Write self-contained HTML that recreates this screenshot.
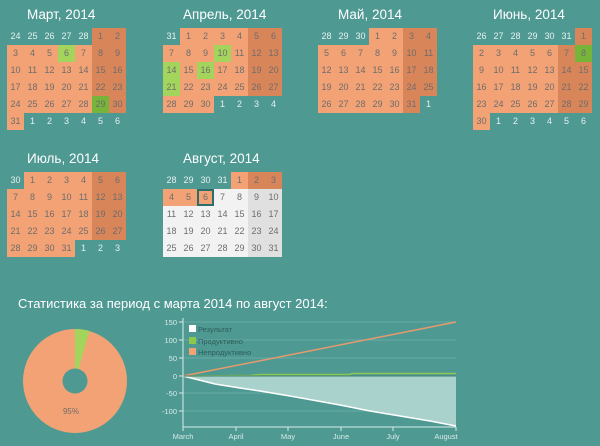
<!DOCTYPE html>
<html><head><meta charset="utf-8"><style>
body{margin:0;width:600px;height:446px;background:#4f9993;font-family:"Liberation Sans",sans-serif;position:relative;overflow:hidden}
.t{position:absolute;color:#fff;font-size:13.5px}
.c{position:absolute;width:17px;height:17px;line-height:17px;text-align:center;font-size:9px;color:#6d6d6d}
.o{color:#e6f0ee}
</style></head><body>
<div id="root"></div>
<svg style="position:absolute;left:0;top:0" width="600" height="446">
<g stroke="#6aaca6" stroke-width="1">
<line x1="183" y1="322" x2="456" y2="322"/><line x1="183" y1="340" x2="456" y2="340"/><line x1="183" y1="358" x2="456" y2="358"/><line x1="183" y1="393" x2="456" y2="393"/><line x1="183" y1="411" x2="456" y2="411"/>
</g>
<polygon points="183,376 215,384 240,388 260,391 290,396 340,405 370,411 400,416 430,421 456,426 456,376" fill="#a9d2cd"/>
<polyline points="183,376 215,384 240,388 260,391 290,396 340,405 370,411 400,416 430,421 456,426" fill="none" stroke="#fff" stroke-width="1.5"/>
<polyline points="183,376 250,375.5 260,374.5 350,374.5 352,373.5 456,373.5" fill="none" stroke="#8cc84e" stroke-width="1.5"/>
<line x1="183" y1="376" x2="456" y2="322" stroke="#e79a6c" stroke-width="1.5"/>
<line x1="183" y1="376" x2="456" y2="376" stroke="#3f7f79" stroke-width="1"/>
<line x1="183" y1="318" x2="183" y2="427" stroke="#d8eae8"/>
<line x1="183" y1="427" x2="456" y2="427" stroke="#d8eae8"/>
<g stroke="#d8eae8"><line x1="179" y1="322" x2="183" y2="322"/><line x1="179" y1="340" x2="183" y2="340"/><line x1="179" y1="358" x2="183" y2="358"/><line x1="179" y1="376" x2="183" y2="376"/><line x1="179" y1="393" x2="183" y2="393"/><line x1="179" y1="411" x2="183" y2="411"/>
<line x1="183" y1="427" x2="183" y2="431"/><line x1="236" y1="427" x2="236" y2="431"/><line x1="288" y1="427" x2="288" y2="431"/><line x1="341" y1="427" x2="341" y2="431"/><line x1="393" y1="427" x2="393" y2="431"/><line x1="456" y1="427" x2="456" y2="431"/></g>
<g font-size="7.5" fill="#d8eae8" text-anchor="end" font-family="Liberation Sans,sans-serif">
<text x="177" y="325">150</text><text x="177" y="343">100</text><text x="177" y="361">50</text><text x="177" y="379">0</text><text x="177" y="396">-50</text><text x="177" y="414">-100</text></g>
<g font-size="7.5" fill="#d8eae8" text-anchor="middle" font-family="Liberation Sans,sans-serif">
<text x="183" y="439">March</text><text x="236" y="439">April</text><text x="288" y="439">May</text><text x="341" y="439">June</text><text x="393" y="439">July</text><text x="446" y="439">August</text></g>
<rect x="189" y="325" width="7" height="7" fill="#fff"/><rect x="189" y="337" width="7" height="7" fill="#8cc84e"/><rect x="189" y="348" width="7" height="7" fill="#f2a274"/>
<g font-size="7.5" fill="#2e5f5a" font-family="Liberation Sans,sans-serif"><text x="198" y="332">Результат</text><text x="198" y="344">Продуктивно</text><text x="198" y="355">Непродуктивно</text></g>
<circle cx="75" cy="381" r="52" fill="#f2a274"/>
<path d="M75,381 L75,329 A52,52 0 0 1 89.5,331 Z" fill="#a3d55c"/>
<circle cx="75" cy="381" r="12.5" fill="#4f9993"/>
<text x="71" y="414" font-size="8" fill="#6d6d6d" text-anchor="middle" font-family="Liberation Sans,sans-serif">95%</text>
</svg>
<div class="t" style="left:18px;top:296px;font-size:13px">Статистика за период с марта 2014 по август 2014:</div>
<script>
var months=[
 {n:"Март, 2014",x:7,y:28,off:5,d:31,p:28,sp:{6:"#a3d55c",29:"#76b53a"}},
 {n:"Апрель, 2014",x:163,y:28,off:1,d:30,p:31,sp:{10:"#a3d55c",14:"#a3d55c",16:"#a3d55c",21:"#a3d55c"}},
 {n:"Май, 2014",x:318,y:28,off:3,d:31,p:30,sp:{}},
 {n:"Июнь, 2014",x:473,y:28,off:6,d:30,p:31,sp:{8:"#76b53a"}},
 {n:"Июль, 2014",x:7,y:172,off:1,d:31,p:30,sp:{}},
 {n:"Август, 2014",x:163,y:172,off:4,d:31,p:31,sp:{},aug:1}
];
var h="";
months.forEach(function(m){
 h+='<div class="t" style="left:'+(m.x+20)+'px;top:'+(m.y-21)+'px">'+m.n+'</div>';
 var rows=Math.ceil((m.off+m.d)/7);
 for(var i=0;i<rows*7;i++){
  var col=i%7,row=Math.floor(i/7),day=i-m.off+1,inm=day>=1&&day<=m.d,bg="transparent",cls="c",extra="";
  var txt=inm?day:(day<1?m.p+day:day-m.d);
  if(inm){
   var we=col>=5;
   if(m.aug){
     if(day<=6){bg=we?"#d9855a":"#f2a274";}else bg=we?"#e0e0e0":"#f2f2f2";
     if(day==6)extra="box-sizing:border-box;border:2px solid #2c6f6a;line-height:13px;";
   } else bg=we?"#d9855a":"#f2a274";
   if(m.sp[day])bg=m.sp[day];
  } else cls+=" o";
  h+='<div class="'+cls+'" style="left:'+(m.x+col*17)+'px;top:'+(m.y+row*17)+'px;background:'+bg+';'+extra+'">'+txt+'</div>';
 }
});
document.getElementById("root").innerHTML=h;
</script>
</body></html>
